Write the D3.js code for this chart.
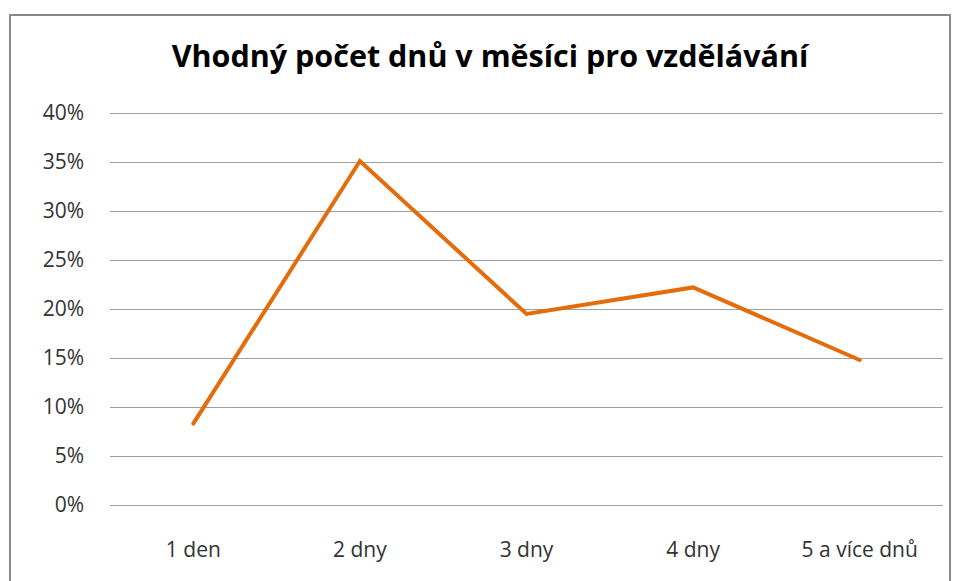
<!DOCTYPE html>
<html>
  <head>
    <meta charset="UTF-8">
    <title>Vhodný počet dnů</title>
    <script src="https://d3js.org/d3.v7.min.js"></script>
    <style>
      body { margin: 0; background: #fff; }
      text { font-family: "Open Sans", Lato, sans-serif; }
    </style>
  </head>
  <body>
    <div id="graph"></div>
    <script>

const categories = ["1 den", "2 dny", "3 dny", "4 dny", "5 a více dnů"];
const values = [0.083, 0.351, 0.195, 0.222, 0.148];
const yTicks = [0, 0.05, 0.1, 0.15, 0.2, 0.25, 0.3, 0.35, 0.4];

const svgWidth = 957;
const svgHeight = 581;

const margin = {top: 113, right: 14, bottom: 76, left: 110};
const chartWidth = svgWidth - margin.left - margin.right;
const chartHeight = svgHeight - margin.top - margin.bottom;

const svg = d3.select("#graph")
  .append("svg")
  .attr("width", svgWidth)
  .attr("height", svgHeight);

// outer frame (bottom is cut off in the original)
svg.append("path")
  .attr("d", "M10,581 V15 H950 V581")
  .attr("fill", "none")
  .attr("stroke", "#888")
  .attr("stroke-width", 2);

svg.append("text")
  .attr("x", 490)
  .attr("y", 67)
  .attr("text-anchor", "middle")
  .attr("font-size", 30.5)
  .attr("font-weight", "bold")
  .attr("fill", "#000")
  .text("Vhodný počet dnů v měsíci pro vzdělávání");

const chart = svg.append("g")
  .attr("transform", "translate(" + margin.left + "," + margin.top + ")");

const xScale = d3.scaleBand()
  .domain(categories)
  .range([0, chartWidth]);

const yScale = d3.scaleLinear()
  .domain([0, 0.4])
  .range([chartHeight, 0]);

const yAxis = d3.axisLeft(yScale)
  .tickValues(yTicks)
  .tickSize(-chartWidth)
  .tickPadding(26)
  .tickFormat(d3.format(".0%"));

const gy = chart.append("g").call(yAxis);
gy.select(".domain").remove();
gy.selectAll(".tick line").attr("stroke", "#a0a0a0").attr("stroke-width", 1.2);
gy.selectAll(".tick text")
  .attr("font-size", 21)
  .attr("fill", "#333")
  .style("font-family", "'Open Sans', Lato, sans-serif");

const xAxis = d3.axisBottom(xScale)
  .tickSize(0)
  .tickPadding(37);

const gx = chart.append("g")
  .attr("transform", "translate(0," + chartHeight + ")")
  .call(xAxis);
gx.select(".domain").remove();
gx.selectAll(".tick text")
  .attr("font-size", 21)
  .attr("fill", "#333")
  .style("font-family", "'Open Sans', Lato, sans-serif");

const line = d3.line()
  .x((d, i) => xScale(categories[i]) + xScale.bandwidth() / 2)
  .y(d => yScale(d));

chart.append("path")
  .datum(values)
  .attr("d", line)
  .attr("fill", "none")
  .attr("stroke", "#E46C0A")
  .attr("stroke-width", 4)
  .attr("stroke-linecap", "round")
  .attr("stroke-linejoin", "miter");

    </script>
  </body>
</html>
